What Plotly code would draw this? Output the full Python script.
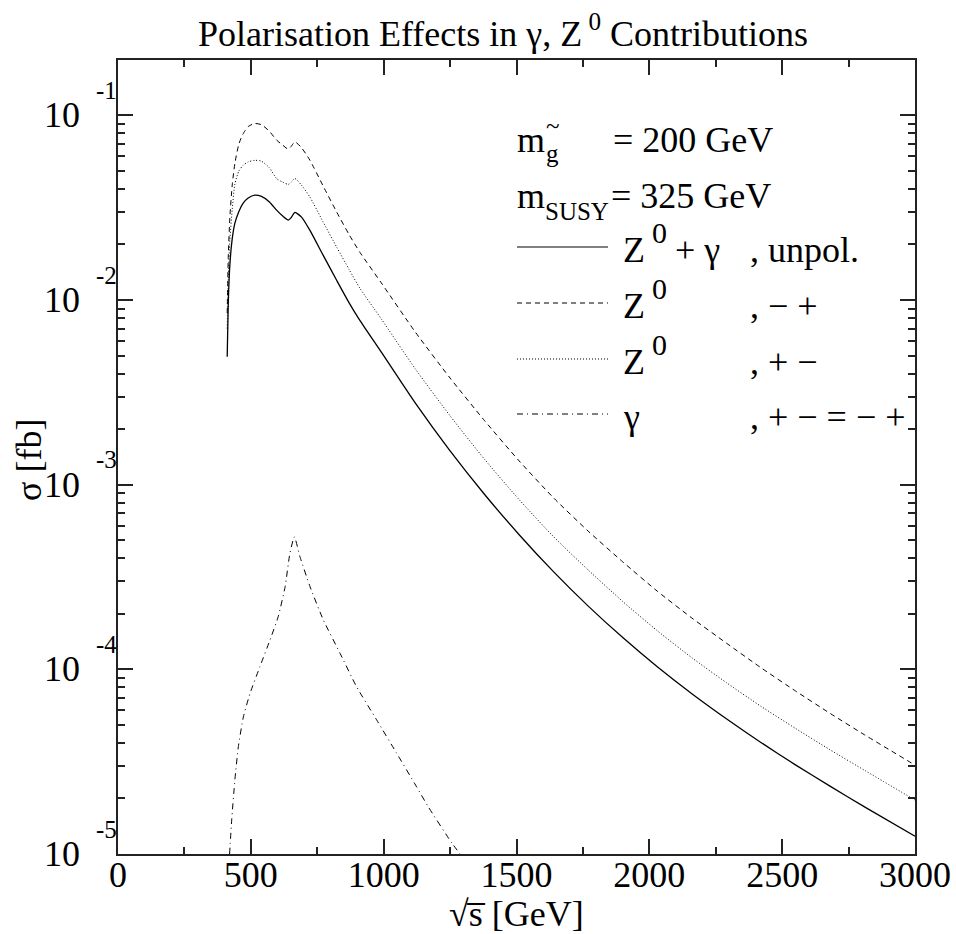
import plotly.graph_objects as go

# ---------------- data ----------------
sqrt_s = [411, 415, 421, 430, 440, 455, 470, 490, 515, 540, 570, 597, 620, 641, 652, 666,
          690, 722, 772, 823, 870, 911,
          990, 1120, 1250, 1380, 1510, 1640, 1770, 1900, 2030, 2160, 2290, 2420, 2550,
          2680, 2810, 3000]

sigma_unpol = [4.93e-3, 9.5e-3, 0.0155, 0.0215, 0.0261, 0.0302, 0.0333, 0.0357, 0.0370, 0.0364,
               0.0340, 0.0307, 0.0285, 0.0271, 0.0280, 0.0298, 0.0282, 0.0239, 0.0175, 0.0128,
               9.66e-3, 7.73e-3,
               5.25e-3, 2.754e-3, 1.524e-3, 8.85e-4, 5.36e-4, 3.37e-4, 2.20e-4, 1.486e-4, 1.033e-4,
               7.38e-5, 5.40e-5, 4.02e-5, 3.04e-5, 2.33e-5, 1.80e-5, 1.247e-5]

sigma_z_minus_plus = [8.5e-3, 0.017, 0.028, 0.042, 0.055, 0.070, 0.079, 0.087, 0.0904, 0.089,
                      0.082, 0.0735, 0.069, 0.0656, 0.068, 0.0719, 0.067, 0.0573, 0.0415, 0.0300,
                      0.0226, 0.0181,
                      0.01245, 6.68e-3, 3.78e-3, 2.22e-3, 1.345e-3, 8.47e-4, 5.60e-4, 3.82e-4, 2.65e-4,
                      1.897e-4, 1.387e-4, 1.021e-4, 7.64e-5, 5.78e-5, 4.42e-5, 3.03e-5]

sigma_z_plus_minus = [7.0e-3, 0.013, 0.021, 0.031, 0.0425, 0.050, 0.0535, 0.0560, 0.0571, 0.0565,
                      0.052, 0.0455, 0.0435, 0.0423, 0.0435, 0.0455, 0.042, 0.0362, 0.0265, 0.01936,
                      0.01462, 0.01156,
                      7.94e-3, 4.22e-3, 2.36e-3, 1.371e-3, 8.30e-4, 5.22e-4, 3.45e-4, 2.33e-4, 1.618e-4,
                      1.156e-4, 8.47e-5, 6.31e-5, 4.79e-5, 3.67e-5, 2.84e-5, 1.96e-5]

sqrt_s_gamma = [420, 428, 440, 453, 472, 497, 534, 572, 603, 629, 647, 664, 685, 723, 773, 836,
                898, 974, 1049, 1124, 1168, 1256, 1290]
sigma_gamma = [1.0e-5, 1.53e-5, 2.52e-5, 3.81e-5, 5.53e-5, 7.41e-5, 1.033e-4, 1.44e-4, 1.93e-4,
               2.80e-4, 4.25e-4, 5.22e-4, 4.07e-4, 2.80e-4, 1.85e-4, 1.22e-4, 8.05e-5, 5.31e-5,
               3.51e-5, 2.31e-5, 1.80e-5, 1.15e-5, 9.9e-6]

x_tick_vals = [0, 500, 1000, 1500, 2000, 2500, 3000]
y_decades = [-1, -2, -3, -4, -5]

title_text = "Polarisation Effects in γ, Z<sup> 0</sup> Contributions"
x_title = "√s\u0305 [GeV]"
y_title = "σ [fb]"

# ---------------- layout geometry ----------------
W, H = 956, 934
L, R, T, B = 118, 915, 60, 854
FONT = "Liberation Serif"


def px_x(p):
    return (p - L) / (R - L)


def px_y(p):
    return (B - p) / (B - T)


fig = go.Figure()
line_specs = [
    (sigma_unpol, "solid", 1.3),
    (sigma_z_minus_plus, "5px,4px", 1.0),
    (sigma_z_plus_minus, "1px,2px", 1.0),
]
for ys, dash, w in line_specs:
    fig.add_trace(go.Scatter(x=sqrt_s, y=ys, mode="lines",
                             line=dict(color="black", width=w, dash=dash, shape="spline", smoothing=0.6),
                             showlegend=False, hoverinfo="skip"))
fig.add_trace(go.Scatter(x=sqrt_s_gamma, y=sigma_gamma, mode="lines",
                         line=dict(color="black", width=1.0, dash="6px,4px,1px,4px", shape="spline", smoothing=0.5),
                         showlegend=False, hoverinfo="skip"))

annotations = []


def txt(x_left, baseline, text, size, xanchor="left"):
    # place text so that its baseline sits at the given pixel row
    bottom = baseline + 0.216 * size
    annotations.append(dict(xref="paper", yref="paper", x=px_x(x_left), y=px_y(bottom),
                            xanchor=xanchor, yanchor="bottom", text=text, showarrow=False,
                            borderpad=0, borderwidth=0,
                            font=dict(family=FONT, size=size, color="black")))


# y tick labels (10 with raised exponent)
for d in y_decades:
    annotations.append(dict(xref="paper", yref="y", x=px_x(80), y=d, xanchor="right", yanchor="middle",
                            text="10", showarrow=False, borderpad=0, borderwidth=0,
                            font=dict(family=FONT, size=36, color="black")))
    annotations.append(dict(xref="paper", yref="y", x=px_x(117), y=d, xanchor="right", yanchor="middle",
                            yshift=25, text=f"-{abs(d)}", showarrow=False, borderpad=0, borderwidth=0,
                            font=dict(family=FONT, size=25, color="black")))

# axis titles
annotations.append(dict(xref="paper", yref="paper", x=px_x(29), y=px_y(460), xanchor="center",
                        yanchor="middle", textangle=-90, text=y_title, showarrow=False,
                        font=dict(family=FONT, size=36, color="black")))
annotations.append(dict(xref="paper", yref="paper", x=px_x(516), y=px_y(914), xanchor="center",
                        yanchor="middle", text=x_title, showarrow=False, borderpad=0, borderwidth=0,
                        font=dict(family=FONT, size=36, color="black")))

# legend-like text block
txt(517, 152, "m", 36)
txt(546, 134, "~", 25)
txt(546, 162, "g", 25)
txt(613, 152, "= 200 GeV", 36)

txt(517, 208, "m", 36)
txt(545, 220, "SUSY", 25)
txt(611, 208, "= 325 GeV", 36)

rows = [
    (262, 247, "solid", ["Z", "0", "+ γ"], ", unpol."),
    (318, 303, "5px,4px", ["Z", "0"], ", − +"),
    (374, 359, "1px,2px", ["Z", "0"], ", + −"),
    (429, 414, "6px,4px,1px,4px", ["γ"], ", + − = − +"),
]
shapes = []
for base, ly, dash, parts, tail in rows:
    shapes.append(dict(type="line", xref="paper", yref="paper", x0=px_x(517), x1=px_x(608),
                       y0=px_y(ly), y1=px_y(ly), line=dict(color="black", width=1.0, dash=dash)))
    txt(623, base, parts[0], 36)
    if len(parts) > 1:
        txt(652, base - 19, parts[1], 30)
    if len(parts) > 2:
        txt(675, base, parts[2], 36)
    txt(750, base, tail, 36)

axis_common = dict(showgrid=False, zeroline=False, showline=True, linecolor="#222", linewidth=2,
                   mirror="ticks", ticks="inside", tickcolor="#222", tickwidth=1.5, ticklen=15,
                   automargin=False)

fig.update_layout(
    width=W, height=H,
    margin=dict(l=L, r=W - R, t=T, b=H - B, pad=0, autoexpand=False),
    paper_bgcolor="white", plot_bgcolor="white",
    font=dict(family=FONT, size=36, color="black"),
    title=dict(text=title_text, x=503 / W, xanchor="center", y=1 - 33 / H, yanchor="middle",
               automargin=False, font=dict(family=FONT, size=36, color="black")),
    xaxis=dict(range=[0, 3000], tickvals=x_tick_vals, ticktext=[str(v) for v in x_tick_vals],
               tickfont=dict(family=FONT, size=36, color="black"), ticklabelstandoff=-12,
               minor=dict(dtick=250, ticks="inside", ticklen=7, tickcolor="#222", tickwidth=1.5, showgrid=False),
               **axis_common),
    yaxis=dict(type="log", range=[-5, -0.7], dtick=1, showticklabels=False,
               minor=dict(dtick="D1", ticks="inside", ticklen=7, tickcolor="#222", tickwidth=1.5, showgrid=False),
               **axis_common),
    annotations=annotations,
    shapes=shapes,
    showlegend=False,
)

fig.write_html("out.html")
